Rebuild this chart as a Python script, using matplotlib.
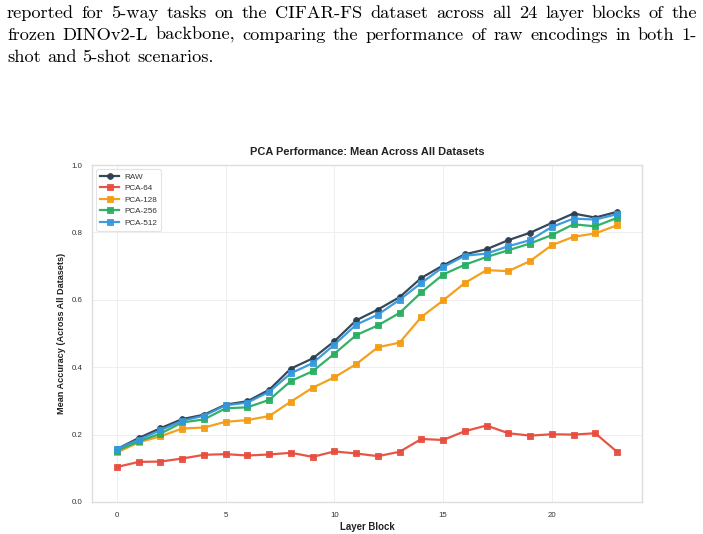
import matplotlib
matplotlib.use("Agg")
import matplotlib.pyplot as plt
import numpy as np

layers = list(range(24))
raw = [0.157, 0.190, 0.219, 0.246, 0.259, 0.289, 0.299, 0.333, 0.396, 0.426, 0.477, 0.539,
       0.571, 0.608, 0.665, 0.702, 0.735, 0.750, 0.777, 0.799, 0.828, 0.856, 0.844, 0.861]
pca64 = [0.104, 0.119, 0.120, 0.129, 0.140, 0.142, 0.138, 0.141, 0.146, 0.134, 0.150, 0.144,
         0.136, 0.149, 0.187, 0.184, 0.210, 0.227, 0.204, 0.197, 0.201, 0.200, 0.204, 0.149]
pca128 = [0.147, 0.177, 0.195, 0.218, 0.221, 0.238, 0.243, 0.255, 0.298, 0.339, 0.370, 0.409,
          0.459, 0.473, 0.549, 0.598, 0.650, 0.688, 0.685, 0.715, 0.762, 0.787, 0.797, 0.821]
pca256 = [0.152, 0.180, 0.203, 0.236, 0.245, 0.278, 0.281, 0.303, 0.359, 0.388, 0.440, 0.495,
          0.524, 0.561, 0.622, 0.675, 0.704, 0.727, 0.747, 0.767, 0.792, 0.824, 0.818, 0.843]
pca512 = [0.158, 0.185, 0.213, 0.241, 0.256, 0.287, 0.295, 0.327, 0.382, 0.412, 0.467, 0.526,
          0.556, 0.600, 0.650, 0.697, 0.731, 0.737, 0.759, 0.777, 0.816, 0.841, 0.838, 0.854]

series = [("RAW", raw, "#2c3e50", "o"),
          ("PCA-64", pca64, "#e74c3c", "s"),
          ("PCA-128", pca128, "#f39c12", "s"),
          ("PCA-256", pca256, "#27ae60", "s"),
          ("PCA-512", pca512, "#3498db", "s")]

title = "PCA Performance: Mean Across All Datasets"
xlabel = "Layer Block"
ylabel = "Mean Accuracy (Across All Datasets)"
para_lines = ["reported for 5-way tasks on the CIFAR-FS dataset across all 24 layer blocks of the",
              "frozen DINOv2-L backbone, comparing the performance of raw encodings in both 1-",
              "shot and 5-shot scenarios."]

W, H = 703, 534
fig = plt.figure(figsize=(W / 100, H / 100), dpi=100)
fig.patch.set_facecolor("white")

# paragraph text (justified)
renderer = fig.canvas.get_renderer()
fs_para = 13.2
baselines = [18, 40, 62]
x_left, x_right = 7, 697
for i, line in enumerate(para_lines):
    words = line.split(" ")
    ybase = 1 - baselines[i] / H
    justify = i < len(para_lines) - 1
    texts = []
    widths = []
    for w in words:
        t = fig.text(0, ybase, w, fontsize=fs_para, family="cmr10", va="baseline", ha="left")
        texts.append(t)
        widths.append(t.get_window_extent(renderer).width)
    total = sum(widths)
    if justify and len(words) > 1:
        gap = (x_right - x_left - total) / (len(words) - 1)
    else:
        sp = fig.text(0, 0, "a a", fontsize=fs_para, family="cmr10")
        sp2 = fig.text(0, 0, "aa", fontsize=fs_para, family="cmr10")
        gap = sp.get_window_extent(renderer).width - sp2.get_window_extent(renderer).width
        sp.remove(); sp2.remove()
    x = x_left
    for t, wd in zip(texts, widths):
        t.set_x(x / W)
        x += wd + gap

ax = fig.add_axes([92 / W, 1 - 502 / H, (642 - 92) / W, (502 - 165) / H])
ax.set_facecolor("white")
for name, vals, col, mk in series:
    ax.plot(layers, vals, color=col, marker=mk, lw=1.6, markersize=4.2,
            markeredgecolor=col, markeredgewidth=0.6, label=name, alpha=0.95)

ax.set_ylim(0, 1.0)
ax.set_xticks([0, 5, 10, 15, 20])
ax.set_yticks([0.0, 0.2, 0.4, 0.6, 0.8, 1.0])
ax.tick_params(axis="both", labelsize=5.7, colors="#333333", length=0, pad=7)
ax.grid(True, color="#eeeeee", lw=0.7)
ax.set_axisbelow(True)
for s in ax.spines.values():
    s.set_color("#dddddd")
    s.set_linewidth(1.0)

ax.set_title(title, fontsize=7.9, fontweight="bold", family="Liberation Sans", color="#222222", pad=7)
ax.set_xlabel(xlabel, fontsize=6.9, fontweight="bold", family="Liberation Sans", color="#222222", labelpad=2)
ax.set_ylabel(ylabel, fontsize=6.6, fontweight="bold", family="Liberation Sans", color="#222222", labelpad=4)
for lab in ax.get_xticklabels() + ax.get_yticklabels():
    lab.set_family("Liberation Sans")

leg = ax.legend(loc="upper left", frameon=True, prop={"family": "Liberation Sans", "size": 5.9},
                handlelength=2.3, borderpad=0.5, labelspacing=0.45, handletextpad=0.6)
leg.get_frame().set_edgecolor("#dddddd")
leg.get_frame().set_linewidth(0.8)
for t in leg.get_texts():
    t.set_color("#333333")

fig.savefig("out.png", dpi=100)
